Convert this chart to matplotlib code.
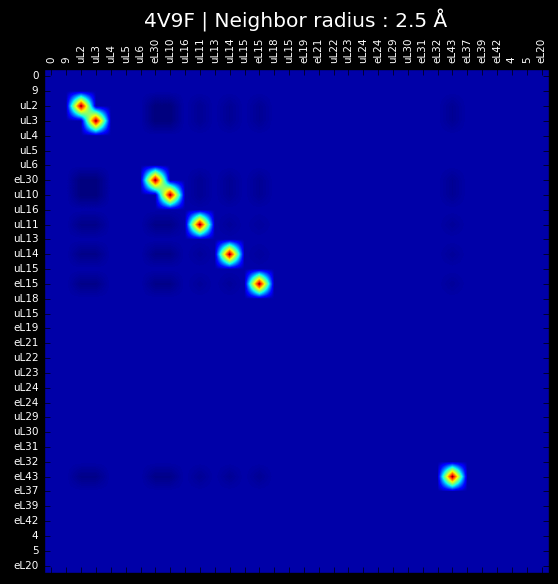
import matplotlib
matplotlib.use('Agg')
import matplotlib.pyplot as plt
import numpy as np

plt.style.use('classic')

labels = ['0', '9', 'uL2', 'uL3', 'uL4', 'uL5', 'uL6', 'eL30', 'uL10', 'uL16',
          'uL11', 'uL13', 'uL14', 'uL15', 'eL15', 'uL18', 'uL15', 'eL19', 'eL21',
          'uL22', 'uL23', 'uL24', 'eL24', 'uL29', 'uL30', 'eL31', 'eL32', 'eL43',
          'eL37', 'eL39', 'eL42', '4', '5', 'eL20']

# rows/cols that carry signal (uL2, uL3, eL30, uL10, uL11, uL14, eL15, eL43)
active = [2, 3, 7, 8, 10, 12, 14, 27]
block = [
    [1.00, 0.00, -0.040, -0.040, -0.020, -0.020, -0.020, -0.020],
    [0.00, 1.00, -0.040, -0.040, -0.020, -0.020, -0.020, -0.020],
    [-0.040, -0.040, 1.00, 0.00, -0.020, -0.020, -0.020, -0.020],
    [-0.040, -0.040, 0.00, 1.00, -0.020, -0.020, -0.020, -0.020],
    [-0.030, -0.030, -0.030, -0.030, 1.00, -0.015, -0.012, -0.015],
    [-0.030, -0.030, -0.030, -0.030, -0.015, 1.00, -0.012, -0.015],
    [-0.030, -0.030, -0.030, -0.030, -0.015, -0.015, 1.00, -0.015],
    [-0.030, -0.030, -0.030, -0.030, -0.020, -0.020, -0.020, 1.00],
]

n = len(labels)
mat = np.zeros((n, n))
for i, r in enumerate(active):
    for j, c in enumerate(active):
        mat[r, c] = block[i][j]

fig = plt.figure(figsize=(5.58, 5.84), dpi=100, facecolor='black')
ax = fig.add_axes([44 / 558, 11 / 584, 505 / 558, 504 / 584])
ax.imshow(mat, cmap='jet', interpolation='bilinear', aspect='auto')

ax.set_xticks(np.arange(n))
ax.set_yticks(np.arange(n))
ax.set_xticklabels(labels, rotation=90, fontsize=7.5, color='white')
ax.set_yticklabels(labels, fontsize=7.5, color='white')
ax.tick_params(labeltop=True, labelbottom=False, direction='in',
               top=True, bottom=True, left=True, right=True, color='black')
ax.minorticks_off()
ax.set_xlim(-0.5, n - 0.5)
ax.set_ylim(n - 0.5, -0.5)

fig.text(296 / 558, 1 - 21 / 584, u'4V9F | Neighbor radius : 2.5 \u00c5',
         color='white', fontsize=14.5, ha='center', va='center')

fig.savefig('out.png', dpi=100, facecolor='black')
